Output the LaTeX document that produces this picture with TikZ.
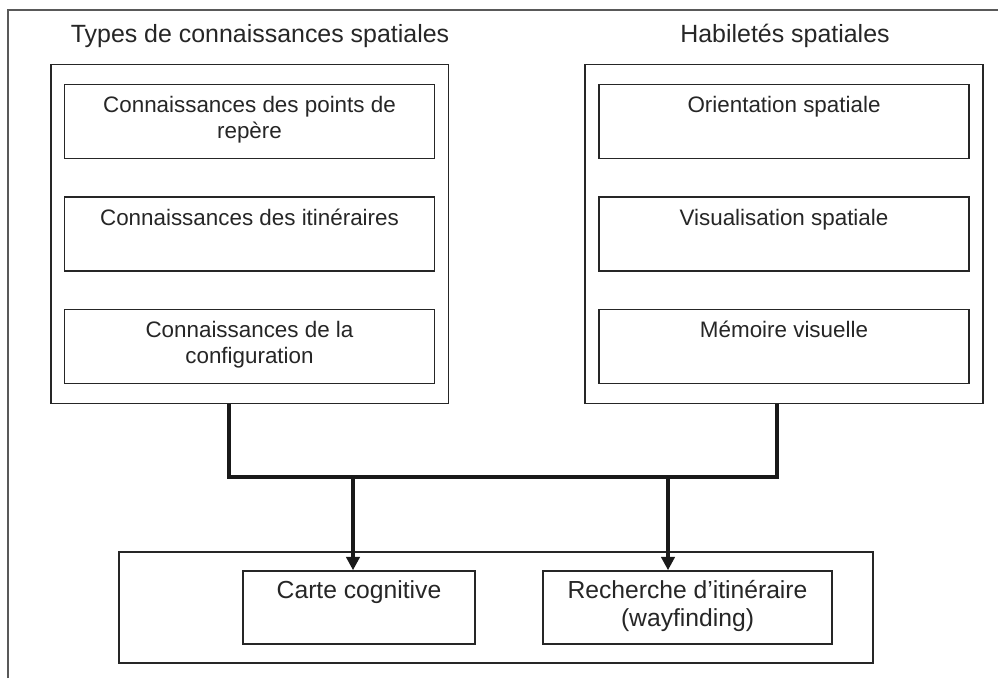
\documentclass[tikz,border=0pt]{standalone}
\usepackage{fontspec}
\setmainfont{Liberation Sans}
\usepackage{xcolor}
\usepackage{tikz}
\usetikzlibrary{arrows.meta,positioning,calc}

\begin{document}
\begin{tikzpicture}[
  x=0.75pt, y=-0.75pt,
  >=Stealth,
  frame/.style={draw=black!65, line width=1.3pt},
  grp/.style={draw=black!85, line width=1.2pt},
  box/.style={draw=black!85, line width=1.2pt, inner sep=0pt, align=center,
    minimum width=277.5pt, minimum height=55.5pt, text=black!85,
    font={\fontsize{16.8}{19.5}\selectfont},
    execute at begin node={\rule{0pt}{22.35pt}}, execute at end node=\strut},
  obox/.style={box, minimum height=54.75pt, font={\fontsize{18.5}{21}\selectfont},
    execute at begin node={\rule{0pt}{26.55pt}}},
  ttl/.style={inner sep=0pt, text=black!85, font={\fontsize{18.7}{22}\selectfont}},
  bus/.style={draw=black!90, line width=2.4pt},
  arr/.style={bus, -{Triangle[width=10pt,length=10pt]}}
]
\path[use as bounding box, fill=white] (0,0) rectangle (998,678);

% --- outer frame (cut at the right and bottom) ---
\draw[frame] (8,678) -- (8,10) -- (998,10);

% --- titles ---
\node[ttl] (ttlL) at (260,36) {Types de connaissances spatiales};
\node[ttl] (ttlR) at (785,36) {Habiletés spatiales};

% --- left column: types of knowledge ---
\matrix (leftgrp) [grp, inner xsep=9.75pt, inner ysep=14.25pt, row sep=27.75pt] at (249.5,234) {
  \node[box] (landmk) {Connaissances des points de\\repère}; \\
  \node[box] (itin)   {Connaissances des itinéraires\\}; \\
  \node[box] (config) {Connaissances de la\\configuration}; \\
};

% --- right column: abilities ---
\matrix (rightgrp) [grp, inner xsep=9.75pt, inner ysep=14.25pt, row sep=27.75pt] at (784,234) {
  \node[box] (orient) {Orientation spatiale\\}; \\
  \node[box] (visu)   {Visualisation spatiale\\}; \\
  \node[box] (memvis) {Mémoire visuelle\\}; \\
};

% --- bottom: outcomes ---
\node[grp, minimum width=565.5pt, minimum height=83.25pt] (outgrp) at (496,607.5) {};
\node[obox, minimum width=174pt] (carte) at (359,607.5) {Carte cognitive\\};
\node[obox, minimum width=216.75pt] (wayf) at (687.5,607.5) {Recherche d’itinéraire\\(wayfinding)};

% --- connectors ---
\coordinate (busL) at (229,477);
\coordinate (busR) at (777,477);
\coordinate (tapA) at (353,477);
\coordinate (tapB) at (668,477);
\draw[bus] (leftgrp.south -| busL) -- (busL) -- (busR) -- (rightgrp.south -| busR);
\draw[arr] (tapA) -- (tapA |- carte.north);
\draw[arr] (tapB) -- (tapB |- wayf.north);

\end{tikzpicture}
\end{document}
